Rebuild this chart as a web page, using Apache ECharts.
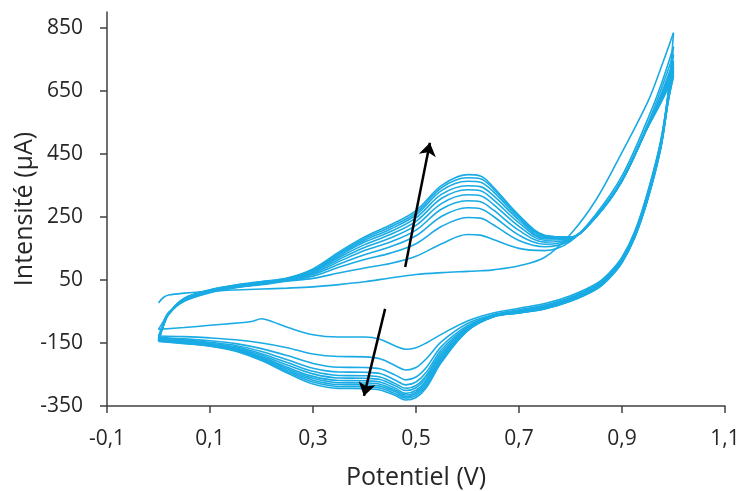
<!DOCTYPE html>
<html><head><meta charset="utf-8">
<script src="https://cdn.jsdelivr.net/npm/echarts@6/dist/echarts.min.js"></script>
<style>html,body{margin:0;padding:0;background:#fff}#c{width:742px;height:491px}</style>
</head><body><div id="c"></div>
<script>
// Tick labels
const xTicks = [-0.1, 0.1, 0.3, 0.5, 0.7, 0.9, 1.1];
const yTicks = [-350, -150, 50, 250, 450, 650, 850];

// Potential grids (V)
const E_fwd = [0, 0.01, 0.02, 0.05, 0.1, 0.15, 0.2, 0.25, 0.3, 0.35, 0.4, 0.45, 0.5, 0.55, 0.6, 0.625, 0.65, 0.7, 0.75, 0.8, 0.85, 0.9, 0.95, 0.975, 1.0];
const E_rev = [1.0, 0.99, 0.975, 0.95, 0.925, 0.9, 0.875, 0.85, 0.8, 0.75, 0.7, 0.65, 0.6, 0.55, 0.52, 0.5, 0.48, 0.46, 0.43, 0.4, 0.35, 0.3, 0.25, 0.2, 0.15, 0.1, 0.05, 0.0];
const E_rev1 = [1.0, 0.99, 0.975, 0.95, 0.925, 0.9, 0.875, 0.85, 0.8, 0.75, 0.7, 0.65, 0.6, 0.55, 0.52, 0.5, 0.48, 0.46, 0.43, 0.4, 0.35, 0.3, 0.25, 0.22, 0.2, 0.18, 0.15, 0.1, 0.05, 0.0];

// Forward scans (µA), cycles 1..11
const fwd1  = [-23, -5, 2, 8, 14, 18, 21, 24, 28, 35, 44, 56, 67, 73, 77, 79, 82, 95, 122, 195, 305, 455, 615, 720, 834];
const fwd2  = [-107, -80, -52, -18, 9, 25, 35, 46, 55, 72, 88, 102, 125, 165, 194, 192, 178, 150, 143, 172, 260, 380, 560, 665, 790];
const fwd3  = [-128, -88, -57, -16, 11, 26, 37, 48, 62, 90, 115, 135, 165, 220, 248, 246, 225, 175, 155, 176, 252, 368, 545, 650, 765];
const fwd4  = [-133, -90, -58, -15, 12, 27, 38, 49, 67, 100, 130, 155, 190, 252, 279, 276, 252, 192, 163, 179, 250, 364, 538, 635, 745];
const fwd5  = [-136, -91, -58, -14, 13, 28, 39, 50, 71, 108, 143, 170, 208, 275, 301, 298, 272, 207, 170, 181, 250, 363, 537, 630, 735];
const fwd6  = [-138, -92, -58, -13, 14, 29, 40, 51, 74, 115, 153, 183, 223, 293, 320, 317, 290, 220, 176, 183, 251, 364, 537, 626, 725];
const fwd7  = [-140, -92, -57, -12, 15, 30, 41, 52, 77, 121, 162, 194, 236, 309, 336, 333, 305, 231, 181, 184, 252, 365, 536, 622, 718];
const fwd8  = [-141, -92, -57, -11, 16, 31, 42, 53, 79, 126, 170, 203, 247, 322, 349, 346, 318, 240, 185, 185, 253, 366, 536, 619, 712];
const fwd9  = [-142, -92, -56, -10, 17, 32, 43, 54, 81, 131, 176, 211, 256, 334, 363, 360, 330, 247, 188, 185, 254, 366, 535, 616, 706];
const fwd10 = [-143, -92, -56, -9, 18, 33, 44, 55, 83, 134, 181, 218, 263, 343, 374, 371, 339, 252, 190, 186, 254, 367, 535, 613, 700];
const fwd11 = [-144, -92, -55, -8, 19, 34, 45, 56, 85, 138, 186, 224, 270, 350, 384, 380, 345, 255, 192, 186, 255, 368, 534, 610, 695];

// Reverse scans (µA), cycles 1..11
const rev1  = [834, 650, 490, 330, 205, 122, 72, 38, 0, -25, -40, -55, -80, -122, -150, -165, -170, -160, -138, -131, -131, -124, -100, -82, -73, -82, -87, -94, -101, -107];
const rev2  = [790, 645, 487, 326, 200, 118, 68, 34, -5, -30, -45, -60, -88, -145, -200, -228, -236, -222, -200, -194, -193, -185, -165, -150, -140, -134, -130, -128];
const rev3  = [765, 640, 483, 322, 197, 115, 65, 31, -8, -33, -48, -62, -95, -160, -228, -258, -267, -252, -232, -228, -227, -215, -190, -168, -152, -143, -137, -133];
const rev4  = [745, 636, 480, 318, 194, 112, 62, 28, -10, -35, -50, -63, -99, -170, -243, -274, -283, -268, -247, -243, -242, -230, -203, -177, -158, -148, -140, -136];
const rev5  = [735, 632, 477, 315, 192, 110, 60, 26, -12, -37, -51, -64, -102, -178, -253, -285, -294, -279, -258, -254, -253, -240, -212, -184, -162, -151, -143, -138];
const rev6  = [725, 629, 474, 313, 190, 109, 59, 25, -13, -38, -52, -65, -104, -185, -260, -292, -301, -286, -266, -262, -261, -248, -220, -189, -165, -153, -145, -140];
const rev7  = [718, 626, 472, 311, 189, 108, 58, 24, -14, -39, -53, -66, -106, -191, -268, -300, -310, -294, -274, -270, -269, -256, -227, -194, -168, -155, -147, -141];
const rev8  = [712, 624, 470, 309, 188, 107, 57, 23, -15, -40, -54, -66, -108, -197, -274, -306, -315, -300, -281, -277, -276, -262, -232, -197, -170, -157, -149, -142];
const rev9  = [706, 622, 468, 308, 187, 106, 56, 22, -16, -41, -54, -67, -110, -202, -280, -311, -320, -305, -287, -283, -282, -268, -237, -200, -172, -158, -150, -143];
const rev10 = [700, 620, 466, 306, 186, 105, 55, 21, -17, -41, -55, -67, -111, -206, -286, -317, -325, -311, -293, -289, -288, -274, -241, -203, -174, -159, -151, -144];
const rev11 = [695, 618, 465, 305, 185, 105, 55, 20, -18, -42, -55, -68, -112, -210, -292, -323, -331, -317, -299, -295, -294, -280, -245, -206, -176, -160, -152, -145];

// Annotation arrows [[E start, I start], [E end, I end]]
const arrowUp = [[0.479, 91], [0.527, 485]];
const arrowDown = [[0.44, -42], [0.399, -318]];

const forwards = [fwd1, fwd2, fwd3, fwd4, fwd5, fwd6, fwd7, fwd8, fwd9, fwd10, fwd11];
const reverses = [rev1, rev2, rev3, rev4, rev5, rev6, rev7, rev8, rev9, rev10, rev11];

const COLOR = '#1AABE4';
const series = [];
forwards.forEach((f, k) => {
  series.push({
    type: 'line', smooth: 0.35, symbol: 'none', silent: true,
    lineStyle: { color: COLOR, width: 1.6 },
    data: E_fwd.map((e, i) => [e, f[i]])
  });
  const r = reverses[k];
  const er = k === 0 ? E_rev1 : E_rev;
  series.push({
    type: 'line', smooth: 0.35, symbol: 'none', silent: true,
    lineStyle: { color: COLOR, width: 1.6 },
    data: er.map((e, i) => [e, r[i]])
  });
});
series.push({
  type: 'line', data: [], silent: true,
  markLine: {
    silent: true, animation: false,
    symbol: ['none', 'arrow'], symbolSize: 13,
    label: { show: false },
    lineStyle: { color: '#000', width: 2.5, type: 'solid' },
    itemStyle: { color: '#000' },
    emphasis: { disabled: true },
    data: [
      [{ coord: arrowUp[0] }, { coord: arrowUp[1] }],
      [{ coord: arrowDown[0] }, { coord: arrowDown[1] }]
    ]
  }
});

const chart = echarts.init(document.getElementById('c'), null, { renderer: 'canvas' });
const FONT = 'Open Sans';
const TXT = '#262626';
chart.setOption({
  animation: false,
  backgroundColor: '#fff',
  grid: { left: 107, right: 17, top: 12, bottom: 85, containLabel: false, outerBoundsMode: 'none' },
  xAxis: {
    type: 'value', min: -0.1, max: 1.1,
    name: 'Potentiel (V)', nameLocation: 'middle', nameGap: 59,
    nameTextStyle: { fontFamily: FONT, fontSize: 25, color: TXT },
    axisLine: { show: true, onZero: false, lineStyle: { color: '#404040', width: 1.5 } },
    axisTick: { show: true, inside: false, length: 7, customValues: xTicks, lineStyle: { color: '#404040', width: 1.5 } },
    axisLabel: { customValues: xTicks, fontFamily: FONT, fontSize: 21, color: TXT, margin: 23,
      formatter: v => v.toFixed(1).replace('.', ',') },
    splitLine: { show: false }
  },
  yAxis: {
    type: 'value', min: -350, max: 900,
    name: 'Intensité (µA)', nameLocation: 'middle', nameGap: 70, nameMoveOverlap: false,
    nameTextStyle: { fontFamily: FONT, fontSize: 25, color: TXT },
    axisLine: { show: true, onZero: false, lineStyle: { color: '#404040', width: 1.5 } },
    axisTick: { show: true, inside: false, length: 7, customValues: yTicks, lineStyle: { color: '#404040', width: 1.5 } },
    axisLabel: { customValues: yTicks, fontFamily: FONT, fontSize: 21, color: TXT, margin: 24 },
    splitLine: { show: false }
  },
  series: series
});
</script>
</body></html>
